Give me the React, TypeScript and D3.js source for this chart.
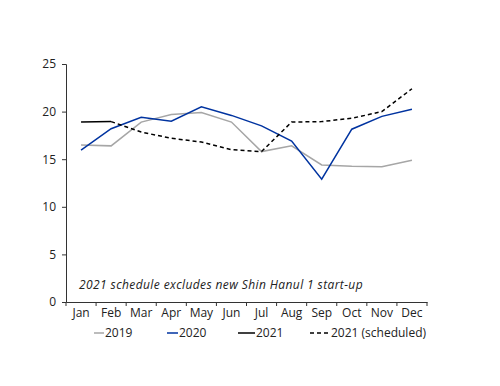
import * as d3 from "d3";
import { useEffect, useRef } from "react";

const months = ["Jan", "Feb", "Mar", "Apr", "May", "Jun", "Jul", "Aug", "Sep", "Oct", "Nov", "Dec"];
const s2019 = [16.5, 16.4, 18.9, 19.7, 19.9, 18.9, 15.8, 16.4, 14.4, 14.25, 14.2, 14.9];
const s2020 = [15.95, 18.2, 19.4, 19.0, 20.5, 19.6, 18.5, 16.9, 12.9, 18.15, 19.5, 20.25];
const s2021 = [18.9, 18.95, null, null, null, null, null, null, null, null, null, null];
const s2021s = [null, 18.95, 17.85, 17.2, 16.8, 16.0, 15.8, 18.9, 18.95, 19.3, 20.0, 22.4];
const yTicks = [0, 5, 10, 15, 20, 25];
const note = "2021 schedule excludes new Shin Hanul 1 start-up";

const font = "'Open Sans', sans-serif";

export default function App() {
    const ref = useRef<SVGSVGElement>(null);

    useEffect(() => {
        const svg = d3.select(ref.current);
        svg.selectAll("*").remove();

        const left = 66, right = 427, top = 64, bottom = 302;

        const x = d3.scaleBand<string>().domain(months).range([left, right]).padding(0);
        const y = d3.scaleLinear().domain([0, 25]).range([bottom, top]);
        const cx = (m: string) => x(m)! + x.bandwidth() / 2;

        // y axis
        const ya = svg.append("g")
            .attr("transform", `translate(${left},0)`)
            .call(d3.axisLeft(y).tickValues(yTicks).tickSize(4).tickPadding(6));
        ya.selectAll("text").attr("font-family", font).attr("font-size", 12).attr("fill", "#222");
        ya.selectAll("line, path").attr("stroke", "#333");

        // x axis
        const xa = svg.append("g")
            .attr("transform", `translate(0,${bottom})`)
            .call(d3.axisBottom(x).tickSize(0).tickPadding(6).tickSizeOuter(0));
        xa.selectAll("text").attr("font-family", font).attr("font-size", 12).attr("fill", "#222");
        xa.select("path").attr("stroke", "#333");
        xa.selectAll(".bound")
            .data(d3.range(months.length + 1))
            .enter()
            .append("line")
            .attr("x1", i => left + i * x.step())
            .attr("x2", i => left + i * x.step())
            .attr("y1", 0)
            .attr("y2", 4)
            .attr("stroke", "#333");

        const line = d3.line<number | null>()
            .defined(d => d != null)
            .x((_, i) => cx(months[i]))
            .y(d => y(d as number));

        const series = [
            { data: s2019, color: "#a6a6a6", dash: null },
            { data: s2020, color: "#0033a0", dash: null },
            { data: s2021s, color: "#000", dash: "4,3" },
            { data: s2021, color: "#000", dash: null },
        ];
        series.forEach(s => {
            svg.append("path")
                .datum(s.data)
                .attr("d", line)
                .attr("fill", "none")
                .attr("stroke", s.color)
                .attr("stroke-width", 1.5)
                .attr("stroke-dasharray", s.dash);
        });

        svg.append("text")
            .attr("x", 79)
            .attr("y", 289)
            .attr("font-family", font)
            .attr("font-size", 12)
            .attr("letter-spacing", 0.4)
            .attr("font-style", "italic")
            .attr("fill", "#222")
            .text(note);

        // legend
        const legend = [
            { label: "2019", color: "#a6a6a6", dash: null, x1: 94, x2: 104 },
            { label: "2020", color: "#0033a0", dash: null, x1: 167, x2: 178 },
            { label: "2021", color: "#000", dash: null, x1: 238, x2: 255 },
            { label: "2021 (scheduled)", color: "#000", dash: "4,3", x1: 310, x2: 330 },
        ];
        const lg = svg.append("g").attr("transform", "translate(0,333)");
        legend.forEach(l => {
            lg.append("line")
                .attr("x1", l.x1).attr("x2", l.x2)
                .attr("y1", 0).attr("y2", 0)
                .attr("stroke", l.color)
                .attr("stroke-width", 1.5)
                .attr("stroke-dasharray", l.dash);
            lg.append("text")
                .attr("x", l.x2 + 1)
                .attr("y", 4)
                .attr("font-family", font)
                .attr("font-size", 12)
                .attr("fill", "#222")
                .text(l.label);
        });
    }, []);

    return <svg ref={ref} width={500} height={386} style={{ position: "absolute", left: 0, top: 0 }} />;
}
